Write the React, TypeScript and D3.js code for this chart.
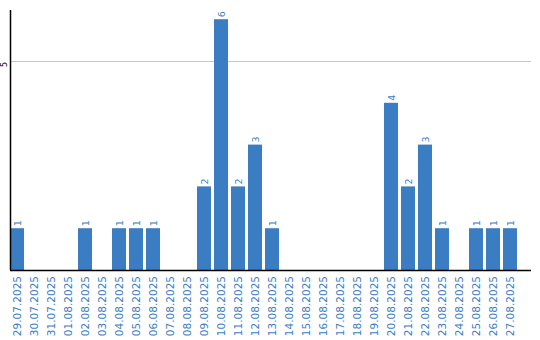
import React from "react";
import * as d3 from "d3";

const categories = ["29.07.2025","30.07.2025","31.07.2025","01.08.2025","02.08.2025","03.08.2025","04.08.2025","05.08.2025","06.08.2025","07.08.2025","08.08.2025","09.08.2025","10.08.2025","11.08.2025","12.08.2025","13.08.2025","14.08.2025","15.08.2025","16.08.2025","17.08.2025","18.08.2025","19.08.2025","20.08.2025","21.08.2025","22.08.2025","23.08.2025","24.08.2025","25.08.2025","26.08.2025","27.08.2025"];
const values = [1,0,0,0,1,0,1,1,1,0,0,2,6,2,3,1,0,0,0,0,0,0,4,2,3,1,0,1,1,1];
const yTicks = [5];

const W = 540, H = 340;
const left = 10, top = 10, bottom = 270, right = 531;
const blue = "#3b7dc3";

export default function App() {
  const x = d3.scaleBand<string>().domain(categories).range([left, left + 17 * categories.length]).padding(0);
  const y = d3.scaleLinear().domain([0, 6.22]).range([bottom, top]);
  const bw = x.bandwidth() - 3;
  return (
    <svg width={W} height={H} style={{ position: "absolute", left: 0, top: 0 }} fontFamily="DejaVu Sans, Verdana, sans-serif">
      <rect width={W} height={H} fill="#fff" />
      {yTicks.map(t => (
        <g key={t}>
          <line x1={left} x2={right} y1={y(t) + 0.5} y2={y(t) + 0.5} stroke="#c8c8c8" />
          <text transform={`translate(${left - 3.5},${y(t) + 3.5}) rotate(-90)`} textAnchor="middle" fontSize={8} fill="#000">{t}</text>
        </g>
      ))}
      {categories.map((c, i) => {
        const v = values[i];
        const bx = x(c)!;
        const cx = bx + bw / 2;
        return (
          <g key={c}>
            {v > 0 && <rect x={bx} y={y(v)} width={bw} height={bottom - y(v)} fill={blue} />}
            {v > 0 && (
              <text transform={`translate(${cx + 3.5},${y(v) - 2}) rotate(-90)`} textAnchor="start" fontSize={9.5} fill={blue}>{v}</text>
            )}
            <text transform={`translate(${cx + 4},${bottom + 6}) rotate(-90)`} textAnchor="end" fontSize={10.5} fill={blue}>{c}</text>
          </g>
        );
      })}
      <line x1={left + 0.5} x2={left + 0.5} y1={top} y2={bottom} stroke="#000" strokeWidth={1.5} />
      <line x1={left} x2={right} y1={bottom + 0.5} y2={bottom + 0.5} stroke="#000" strokeWidth={1.5} />
    </svg>
  );
}
